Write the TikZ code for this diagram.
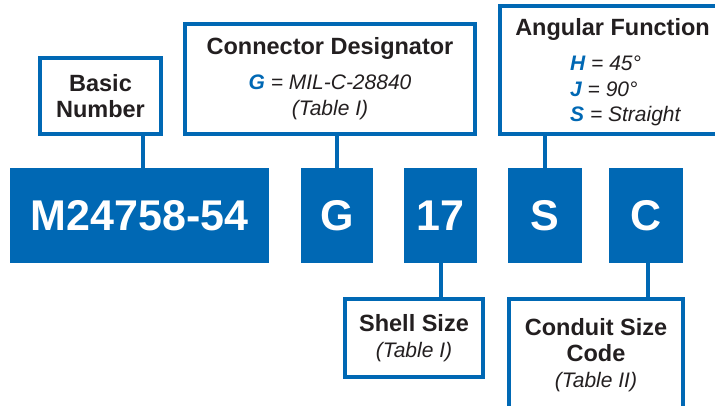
\documentclass[tikz,border=0pt]{standalone}
\usepackage{fontspec}
\setmainfont{Liberation Sans}
\definecolor{milblue}{RGB}{0,104,180}
\definecolor{txtdark}{RGB}{35,31,32}
\newcommand{\tbl}[1]{{\fontsize{21}{26}\selectfont\mdseries\itshape #1}}
\newcommand{\code}[1]{\textcolor{milblue}{\bfseries #1}}
\tikzset{
  codebox/.style={fill=milblue, text=white, inner sep=0pt, minimum height=95pt,
    font=\fontsize{43}{43}\selectfont\bfseries},
  infobox/.style={draw=milblue, line width=4pt, fill=white, inner sep=0pt,
    align=center, text=txtdark, font=\fontsize{23.5}{26}\selectfont\bfseries},
  lead/.style={draw=milblue, line width=4pt},
}
\begin{document}
\begin{tikzpicture}[x=1pt,y=-1pt]
        \useasboundingbox (0,0) rectangle (715,406);
        \clip (0,0) rectangle (715,406);

        % the part number
        \foreach \nm/\x/\w/\txt in {num/139.5/259/M24758-54, gcode/337/72/G, szcode/440.5/73/17, acode/545/74/S, ccode/646/74/C}
            \node[codebox, minimum width=\w pt] (\nm) at (\x,215.5) {\txt};

        % boxes above
        \node[infobox, minimum width=121pt, minimum height=76pt] (basic) at (100.5,96) {Basic\\Number};
        \node[infobox, minimum width=290pt, minimum height=110pt] (desig) at (330,79)
            {Connector Designator\\[9pt]\tbl{\code{G} = MIL-C-28840}\\\tbl{(Table I)}};
        \node[infobox, minimum width=238pt, minimum height=128pt] (angle) at (619,70) {};
        \node[anchor=base, text=txtdark, font=\fontsize{23.5}{26}\selectfont\bfseries] (angtitle) at (612.5,36) {Angular Function};
        \node[anchor=base west, inner sep=0pt, text=txtdark, font=\fontsize{21}{25.5}\selectfont\itshape] (anglist) at (570,71)
            {\begin{tabular}[t]{@{}l@{}}\code{H} = 45°\\\code{J} = 90°\\\code{S} = Straight\end{tabular}};

        % boxes below
        \node[infobox, minimum width=138pt, minimum height=78pt] (shell) at (414,338) {Shell Size\\\tbl{(Table I)}};
        \node[infobox, minimum width=174pt, minimum height=113pt] (conduit) at (596,355.5)
            {Conduit Size\\Code\\\tbl{(Table II)}};

        % leads
        \draw[lead] ([xshift=3.5pt]num.north) -- ([xshift=3.5pt]num.north |- basic.south);
        \draw[lead] (gcode.north) -- (gcode.north |- desig.south);
        \draw[lead] (acode.north) -- (acode.north |- angle.south);
        \draw[lead] (szcode.south) -- (szcode.south |- shell.north);
        \draw[lead] ([xshift=2pt]ccode.south) -- ([xshift=2pt]ccode.south |- conduit.north);
    \end{tikzpicture}
\end{document}
